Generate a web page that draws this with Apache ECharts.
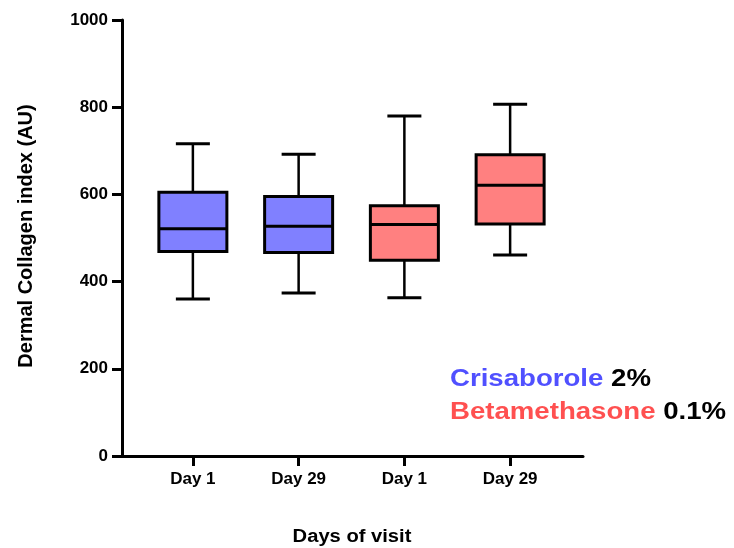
<!DOCTYPE html>
<html><head><meta charset="utf-8">
<script src="https://cdn.jsdelivr.net/npm/echarts@6/dist/echarts.min.js"></script>
<style>html,body{margin:0;padding:0;background:#fff}#c{width:734px;height:548px}</style>
</head><body><div id="c"></div>
<script>
const categories = ['Day 1', 'Day 29', 'Day 1', 'Day 29'];
const groups = ['Crisaborole', 'Crisaborole', 'Betamethasone', 'Betamethasone'];
// [min, Q1, median, Q3, max]
const crisaboroleDay1 = [360, 469, 521, 605, 716];
const crisaboroleDay29 = [374, 467, 527, 595, 692];
const betamethasoneDay1 = [363, 449, 531, 574, 780];
const betamethasoneDay29 = [461, 532, 621, 691, 807];
const yTicks = [0, 200, 400, 600, 800, 1000];

const boxes = [crisaboroleDay1, crisaboroleDay29, betamethasoneDay1, betamethasoneDay29];
const fills = {Crisaborole: '#8080ff', Betamethasone: '#ff8080'};
const font = 'Liberation Sans, Arial, sans-serif';

const chart = echarts.init(document.getElementById('c'));
chart.setOption({
  animation: false,
  backgroundColor: '#fff',
  grid: [
    {left: 122, right: 151, top: 20, bottom: 92},
    {left: 140, width: 423, top: 20, bottom: 92}
  ],
  xAxis: [
    {type: 'value', gridIndex: 0, min: 0, max: 1, show: true,
     axisLine: {show: true, lineStyle: {color: '#000', width: 3}},
     axisTick: {show: false}, axisLabel: {show: false}, splitLine: {show: false}},
    {type: 'category', gridIndex: 1, data: categories,
     axisLine: {show: false},
     axisTick: {show: true, alignWithLabel: true, length: 10, lineStyle: {color: '#000', width: 3}},
     axisLabel: {color: '#000', fontWeight: 'bold', fontSize: 17, fontFamily: font, margin: 15},
     splitLine: {show: false}}
  ],
  yAxis: [
    {type: 'value', gridIndex: 0, min: 0, max: 1000, interval: 200,
     axisLine: {show: true, lineStyle: {color: '#000', width: 3}},
     axisTick: {show: true, length: 10, lineStyle: {color: '#000', width: 3}},
     axisLabel: {color: '#000', fontWeight: 'bold', fontSize: 17, fontFamily: font, margin: 14,
       formatter: v => yTicks.includes(v) ? String(v) : ''},
     splitLine: {show: false}},
    {type: 'value', gridIndex: 1, min: 0, max: 1000, show: false}
  ],
  series: [{
    type: 'custom',
    xAxisIndex: 1, yAxisIndex: 1,
    data: boxes.map((b, i) => [i].concat(b)),
    renderItem: function (params, api) {
      const i = api.value(0);
      const v = [api.value(1), api.value(2), api.value(3), api.value(4), api.value(5)];
      const pMin = api.coord([i, v[0]]), pQ1 = api.coord([i, v[1]]), pMed = api.coord([i, v[2]]),
            pQ3 = api.coord([i, v[3]]), pMax = api.coord([i, v[4]]);
      const x = pMin[0], hw = 34, cw = 17;
      const ls = {stroke: '#000', lineWidth: 3};
      const fill = fills[groups[i]];
      return {type: 'group', children: [
        {type: 'line', shape: {x1: x, y1: pQ3[1], x2: x, y2: pMax[1]}, style: {stroke: '#000', lineWidth: 2.5}},
        {type: 'line', shape: {x1: x, y1: pQ1[1], x2: x, y2: pMin[1]}, style: {stroke: '#000', lineWidth: 2.5}},
        {type: 'line', shape: {x1: x - cw, y1: pMax[1], x2: x + cw, y2: pMax[1]}, style: ls},
        {type: 'line', shape: {x1: x - cw, y1: pMin[1], x2: x + cw, y2: pMin[1]}, style: ls},
        {type: 'rect', shape: {x: x - hw, y: pQ3[1], width: 2 * hw, height: pQ1[1] - pQ3[1]},
         style: {fill: fill, stroke: '#000', lineWidth: 3}},
        {type: 'line', shape: {x1: x - hw, y1: pMed[1], x2: x + hw, y2: pMed[1]}, style: ls}
      ]};
    }
  }],
  graphic: [
    {type: 'text', x: 26, y: 236, rotation: Math.PI / 2,
     style: {text: 'Dermal Collagen index (AU)', fill: '#000', font: 'bold 20px ' + font,
       align: 'center', verticalAlign: 'middle'}},
    {type: 'text', x: 352, y: 537, scaleX: 1.12,
     style: {text: 'Days of visit', fill: '#000', font: 'bold 18px ' + font,
       align: 'center', verticalAlign: 'middle'}},
    {type: 'text', x: 450, y: 379, scaleX: 1.15,
     style: {rich: {a: {fill: '#5050ff', font: 'bold 24px ' + font}, b: {fill: '#000', font: 'bold 24px ' + font}},
       text: '{a|Crisaborole }{b|2%}', align: 'left', verticalAlign: 'middle'}},
    {type: 'text', x: 450, y: 412, scaleX: 1.15,
     style: {rich: {a: {fill: '#ff5050', font: 'bold 24px ' + font}, b: {fill: '#000', font: 'bold 24px ' + font}},
       text: '{a|Betamethasone }{b|0.1%}', align: 'left', verticalAlign: 'middle'}}
  ]
});
</script></body></html>
